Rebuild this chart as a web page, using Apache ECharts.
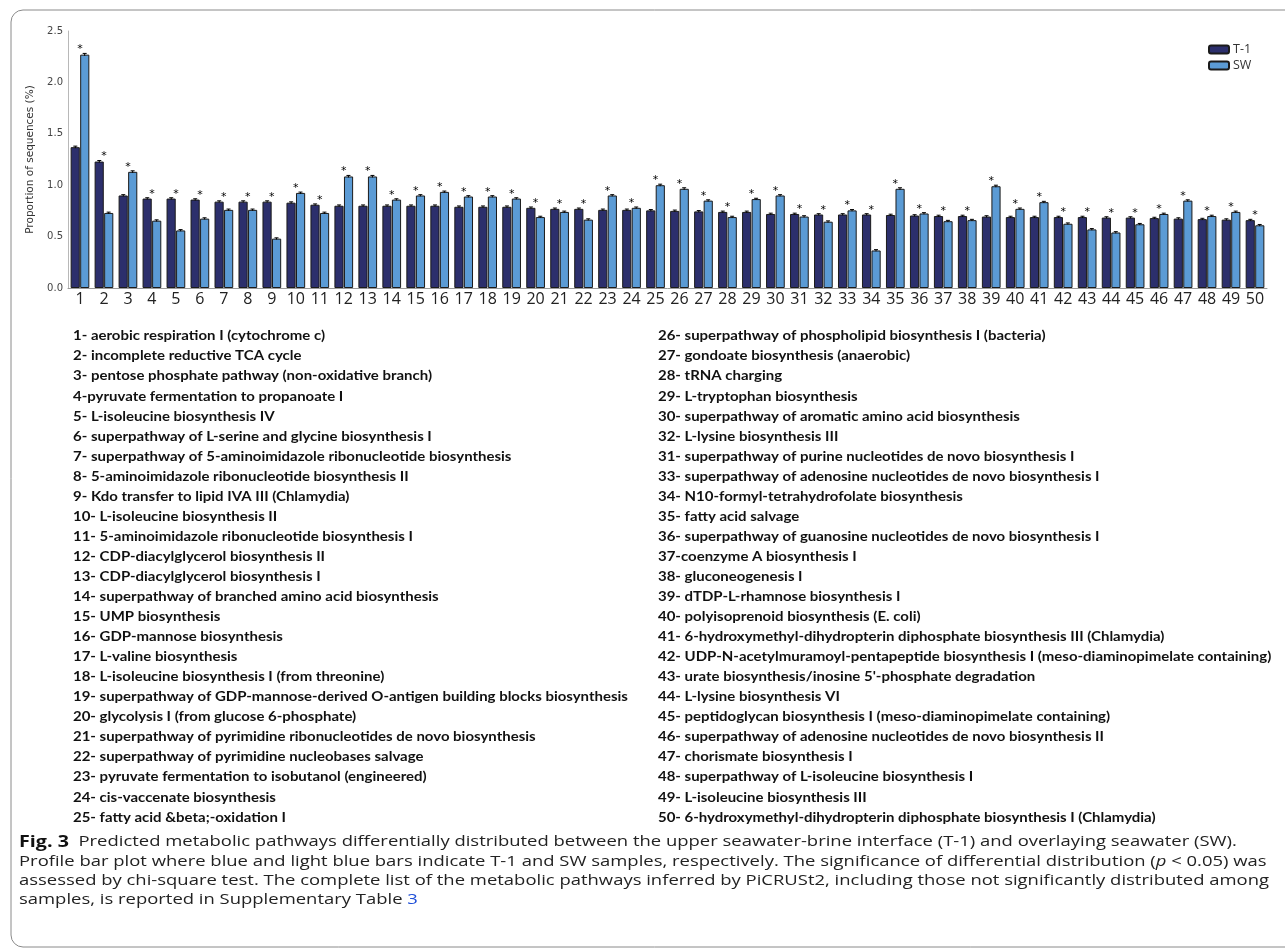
<!DOCTYPE html>
<html>
<head>
<meta charset="utf-8">
<script src="https://cdn.jsdelivr.net/npm/echarts@6/dist/echarts.min.js"></script>
<style>
html,body{margin:0;padding:0;background:#fff;}
#chart{width:1285px;height:948px;}
</style>
</head>
<body>
<div id="chart"></div>
<script>
const categories = ['1','2','3','4','5','6','7','8','9','10','11','12','13','14','15','16','17','18','19','20','21','22','23','24','25','26','27','28','29','30','31','32','33','34','35','36','37','38','39','40','41','42','43','44','45','46','47','48','49','50'];
const seriesNames = ['T-1', 'SW'];
const t1Values = [1.37,1.23,0.90,0.87,0.87,0.86,0.84,0.84,0.84,0.83,0.81,0.80,0.80,0.80,0.80,0.80,0.79,0.79,0.79,0.78,0.77,0.77,0.76,0.76,0.755,0.75,0.745,0.74,0.74,0.72,0.72,0.715,0.715,0.715,0.71,0.705,0.70,0.70,0.695,0.69,0.69,0.69,0.69,0.685,0.685,0.68,0.675,0.67,0.665,0.66];
const swValues = [2.27,0.73,1.13,0.655,0.56,0.675,0.76,0.76,0.48,0.925,0.73,1.085,1.085,0.86,0.90,0.935,0.89,0.89,0.87,0.69,0.74,0.665,0.90,0.78,1.00,0.965,0.85,0.69,0.865,0.90,0.695,0.645,0.755,0.365,0.965,0.725,0.65,0.66,0.99,0.77,0.835,0.625,0.57,0.54,0.62,0.72,0.85,0.70,0.74,0.61];
const t1Errors = [0.01,0.01,0.008,0.008,0.008,0.008,0.008,0.008,0.008,0.008,0.008,0.008,0.008,0.008,0.008,0.008,0.008,0.008,0.008,0.008,0.008,0.008,0.008,0.008,0.008,0.008,0.008,0.008,0.008,0.008,0.008,0.008,0.008,0.008,0.008,0.008,0.008,0.008,0.008,0.008,0.008,0.008,0.008,0.008,0.008,0.008,0.008,0.008,0.008,0.008];
const swErrors = [0.012,0.008,0.01,0.008,0.008,0.008,0.008,0.008,0.008,0.008,0.008,0.01,0.01,0.008,0.008,0.008,0.008,0.008,0.008,0.008,0.008,0.008,0.008,0.008,0.01,0.01,0.008,0.008,0.008,0.008,0.008,0.008,0.008,0.008,0.01,0.008,0.008,0.008,0.01,0.008,0.008,0.008,0.008,0.008,0.008,0.008,0.008,0.008,0.008,0.008];
const yTicks = ['0.0','0.5','1.0','1.5','2.0','2.5'];
const yAxisName = 'Proportion of sequences (%)';
const pathwaysLeft = [
'1- aerobic respiration I (cytochrome c)',
'2- incomplete reductive TCA cycle',
'3- pentose phosphate pathway (non-oxidative branch)',
'4-pyruvate fermentation to propanoate I',
'5- L-isoleucine biosynthesis IV',
'6- superpathway of L-serine and glycine biosynthesis I',
'7- superpathway of 5-aminoimidazole ribonucleotide biosynthesis',
'8- 5-aminoimidazole ribonucleotide biosynthesis II',
'9- Kdo transfer to lipid IVA III (Chlamydia)',
'10- L-isoleucine biosynthesis II',
'11- 5-aminoimidazole ribonucleotide biosynthesis I',
'12- CDP-diacylglycerol biosynthesis II',
'13- CDP-diacylglycerol biosynthesis I',
'14- superpathway of branched amino acid biosynthesis',
'15- UMP biosynthesis',
'16- GDP-mannose biosynthesis',
'17- L-valine biosynthesis',
'18- L-isoleucine biosynthesis I (from threonine)',
'19- superpathway of GDP-mannose-derived O-antigen building blocks biosynthesis',
'20- glycolysis I (from glucose 6-phosphate)',
'21- superpathway of pyrimidine ribonucleotides de novo biosynthesis',
'22- superpathway of pyrimidine nucleobases salvage',
'23- pyruvate fermentation to isobutanol (engineered)',
'24- cis-vaccenate biosynthesis',
'25- fatty acid &beta;-oxidation I'
];
const pathwaysRight = [
'26- superpathway of phospholipid biosynthesis I (bacteria)',
'27- gondoate biosynthesis (anaerobic)',
'28- tRNA charging',
'29- L-tryptophan biosynthesis',
'30- superpathway of aromatic amino acid biosynthesis',
'32- L-lysine biosynthesis III',
'31- superpathway of purine nucleotides de novo biosynthesis I',
'33- superpathway of adenosine nucleotides de novo biosynthesis I',
'34- N10-formyl-tetrahydrofolate biosynthesis',
'35- fatty acid salvage',
'36- superpathway of guanosine nucleotides de novo biosynthesis I',
'37-coenzyme A biosynthesis I',
'38- gluconeogenesis I',
'39- dTDP-L-rhamnose biosynthesis I',
'40- polyisoprenoid biosynthesis (E. coli)',
'41- 6-hydroxymethyl-dihydropterin diphosphate biosynthesis III (Chlamydia)',
'42- UDP-N-acetylmuramoyl-pentapeptide biosynthesis I (meso-diaminopimelate containing)',
'43- urate biosynthesis/inosine 5\'-phosphate degradation',
'44- L-lysine biosynthesis VI',
'45- peptidoglycan biosynthesis I (meso-diaminopimelate containing)',
'46- superpathway of adenosine nucleotides de novo biosynthesis II',
'47- chorismate biosynthesis I',
'48- superpathway of L-isoleucine biosynthesis I',
'49- L-isoleucine biosynthesis III',
'50- 6-hydroxymethyl-dihydropterin diphosphate biosynthesis I (Chlamydia)'
];
const captionLines = [
'{b|Fig. 3}  Predicted metabolic pathways differentially distributed between the upper seawater-brine interface (T-1) and overlaying seawater (SW).',
'Profile bar plot where blue and light blue bars indicate T-1 and SW samples, respectively. The significance of differential distribution ({i|p} < 0.05) was',
'assessed by chi-square test. The complete list of the metabolic pathways inferred by PiCRUSt2, including those not significantly distributed among',
'samples, is reported in Supplementary Table {l|3}'
];
const captionPlain = 'assessed by chi-square test. The complete list of the metabolic pathways inferred by PiCRUSt2, including those not significantly distributed among';

const colorT1 = '#2c2f6c';
const colorSW = '#5b9bd5';
const catGap = 0.22;

const chart = echarts.init(document.getElementById('chart'), null, {renderer: 'canvas'});

const mctx = document.createElement('canvas').getContext('2d');
function measure(font, txt) { mctx.font = font; return mctx.measureText(txt).width; }
const listFont = 'bold 13.5px Lato';
const listScale = 252 / measure(listFont, pathwaysLeft[0]);
const capFont = '15px "Open Sans"';
const capScale = 1250 / measure(capFont, captionPlain);

const graphics = [];
graphics.push({
  type: 'rect', shape: {x: 11, y: 10, width: 1300, height: 937, r: 12},
  style: {fill: 'none', stroke: '#8a8a8a', lineWidth: 1}, silent: true, z: 0
});
pathwaysLeft.forEach((t, i) => {
  graphics.push({type: 'text', x: 73, y: 336 + 20.05 * i, scaleX: listScale,
    style: {text: t, font: listFont, fill: '#111', textVerticalAlign: 'middle'}});
});
pathwaysRight.forEach((t, i) => {
  graphics.push({type: 'text', x: 658, y: 336 + 20.05 * i, scaleX: listScale,
    style: {text: t, font: listFont, fill: '#111', textVerticalAlign: 'middle'}});
});
captionLines.forEach((t, i) => {
  graphics.push({type: 'text', x: 19, y: 842 + 19.3 * i, scaleX: capScale,
    style: {text: t, font: capFont, fill: '#222', textVerticalAlign: 'middle',
      rich: {
        b: {fontFamily: 'Open Sans', fontSize: 16, fontWeight: 'bold', fill: '#111'},
        i: {fontFamily: 'Open Sans', fontSize: 15, fontStyle: 'italic', fill: '#222'},
        l: {fontFamily: 'Open Sans', fontSize: 15, fill: '#1f4fd8'}
      }}});
});

const errData = categories.map((c, i) => [i, t1Values[i], t1Errors[i], swValues[i], swErrors[i]]);

const option = {
  backgroundColor: '#fff',
  animation: false,
  grid: {left: 68, right: 18, top: 31, bottom: 660, containLabel: false},
  legend: {
    data: seriesNames, orient: 'vertical', left: 1203, top: 38,
    itemWidth: 20, itemHeight: 8, itemGap: 3,
    textStyle: {fontFamily: 'Open Sans', fontSize: 12.5, color: '#333', padding: [0, 0, 0, -1]}
  },
  xAxis: {
    type: 'category', data: categories,
    axisLine: {lineStyle: {color: '#9a9a9a', width: 1}},
    axisTick: {show: false},
    axisLabel: {fontFamily: 'Open Sans', fontSize: 16, color: '#222', margin: 3, interval: 0}
  },
  yAxis: {
    type: 'value', min: 0, max: 2.5, interval: 0.5,
    name: yAxisName, nameLocation: 'middle', nameGap: 27,
    nameTextStyle: {fontFamily: 'DejaVu Sans', fontSize: 10.5, color: '#333'},
    axisLine: {show: true, lineStyle: {color: '#b8b8b8'}},
    axisTick: {show: false},
    splitLine: {show: false},
    axisLabel: {fontFamily: 'DejaVu Sans', fontSize: 10, color: '#444', margin: 5,
      formatter: (v) => yTicks[Math.round(v / 0.5)]}
  },
  series: [
    {name: seriesNames[0], type: 'bar', data: t1Values, barGap: '4%', barCategoryGap: (catGap * 100) + '%',
     itemStyle: {color: colorT1, borderColor: '#1b1b1b', borderWidth: 1}},
    {name: seriesNames[1], type: 'bar', data: swValues,
     itemStyle: {color: colorSW, borderColor: '#1b1b1b', borderWidth: 1}},
    {type: 'custom', data: errData, encode: {x: 0, y: [1, 3]}, z: 5, silent: true,
     renderItem: function (params, api) {
       const idx = api.value(0);
       const band = api.size([1, 0])[0];
       const bw = band * (1 - catGap) / 2;
       const cx = api.coord([idx, 0])[0];
       const children = [];
       const pairs = [[api.value(1), api.value(2), cx - bw / 2], [api.value(3), api.value(4), cx + bw / 2]];
       let topVal = 0;
       pairs.forEach(p => {
         const yTop = api.coord([idx, p[0] + p[1]])[1];
         const yBot = api.coord([idx, p[0] - p[1]])[1];
         children.push({type: 'line', shape: {x1: p[2], y1: yTop, x2: p[2], y2: yBot}, style: {stroke: '#000', lineWidth: 1}});
         children.push({type: 'line', shape: {x1: p[2] - 2, y1: yTop, x2: p[2] + 2, y2: yTop}, style: {stroke: '#000', lineWidth: 1}});
         topVal = Math.max(topVal, p[0] + p[1]);
       });
       const ys = api.coord([idx, topVal])[1];
       children.push({type: 'text', x: cx, y: ys - 4, style: {text: '*', font: '11px DejaVu Sans', fill: '#000', textAlign: 'center', textVerticalAlign: 'middle'}});
       return {type: 'group', children: children};
     }}
  ],
  graphic: graphics
};
chart.setOption(option);
</script>
</body>
</html>
